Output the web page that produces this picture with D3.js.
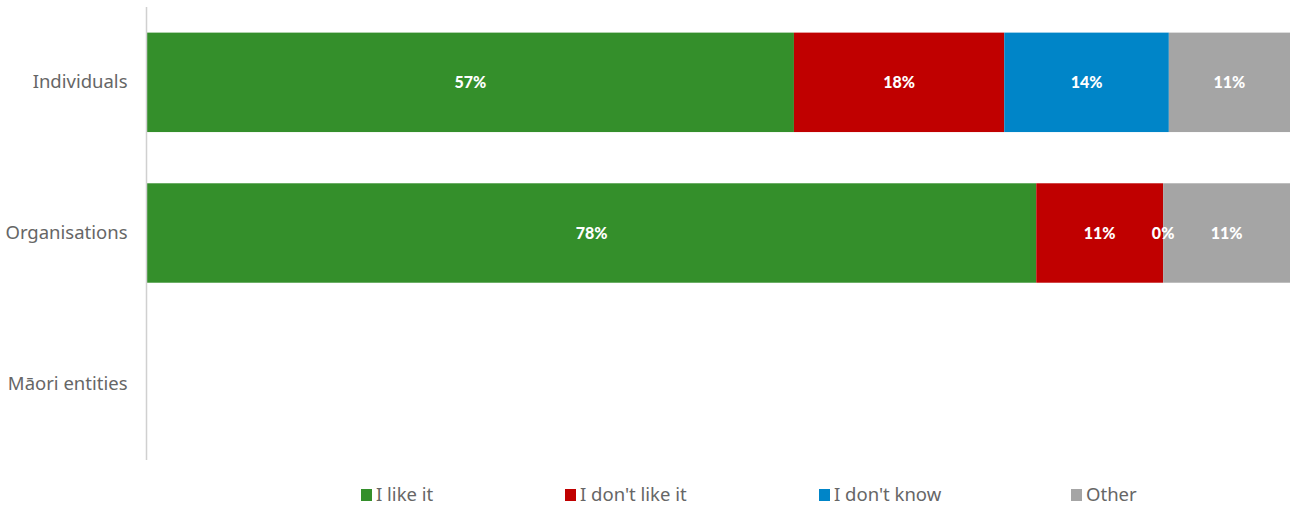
<!DOCTYPE html>
<html>
<head>
<meta charset="utf-8">
<script src="https://cdnjs.cloudflare.com/ajax/libs/d3/7.8.5/d3.min.js"></script>
<style>
body { margin: 0; background: #fff; }
svg text { font-family: "Noto Sans", sans-serif; }
</style>
</head>
<body>
<svg></svg>
<script>
const width = 1290;
const height = 509;

// data
const categories = ["Individuals", "Organisations", "Māori entities"];
const seriesNames = ["I like it", "I don't like it", "I don't know", "Other"];
const seriesColors = ["#348f2b", "#c00000", "#0085c8", "#a5a5a5"];
const likeIt = [56.6, 77.8, null];
const dontLike = [18.4, 11.1, null];
const dontKnow = [14.4, 0, null];
const other = [10.6, 11.1, null];

let rows = categories.map((c, i) => ({
    category: c,
    "I like it": likeIt[i],
    "I don't like it": dontLike[i],
    "I don't know": dontKnow[i],
    "Other": other[i]
}));

let svg = d3.select("svg")
    .attr("width", width)
    .attr("height", height);

//scales
let xScale = d3.scaleLinear()
    .domain([0, 100])
    .range([147, 1290]);
let yScale = d3.scaleBand()
    .domain(categories)
    .range([7, 459])
    .paddingInner(0.34)
    .paddingOuter(0.17);
let colorScale = d3.scaleOrdinal()
    .domain(seriesNames)
    .range(seriesColors);

let stacked = d3.stack().keys(seriesNames)
    .value((d, k) => d[k] == null ? 0 : d[k])(rows);

// flatten segments so labels can sit above every bar
let segments = [];
stacked.forEach(layer => {
    layer.forEach(p => {
        if (p.data[layer.key] != null) {
            segments.push({key: layer.key, x0: p[0], x1: p[1], category: p.data.category, value: p.data[layer.key]});
        }
    });
});

svg.append("g").selectAll("rect")
    .data(segments)
    .enter()
    .append("rect")
        .attr("x", d => xScale(d.x0))
        .attr("y", d => yScale(d.category))
        .attr("width", d => xScale(d.x1) - xScale(d.x0))
        .attr("height", yScale.bandwidth())
        .attr("fill", d => colorScale(d.key));

//value labels
svg.append("g").selectAll("text")
    .data(segments)
    .enter()
    .append("text")
        .attr("x", d => (xScale(d.x0) + xScale(d.x1)) / 2)
        .attr("y", d => yScale(d.category) + yScale.bandwidth() / 2)
        .attr("dy", "0.35em")
        .attr("text-anchor", "middle")
        .attr("fill", "#fff")
        .style("font-family", "Lato, sans-serif")
        .style("font-weight", "900")
        .style("font-size", "16px")
        .text(d => Math.round(d.value) + "%");

//y axis
let yAxis = d3.axisLeft(yScale).tickSize(0).tickPadding(19);
let yAxisG = svg.append("g")
    .attr("transform", "translate(146.5, 0)")
    .call(yAxis);
yAxisG.select(".domain").remove();
yAxisG.append("line")
    .attr("y1", 7).attr("y2", 460)
    .attr("stroke", "#d0d0d0").attr("stroke-width", 1.5);
yAxisG.selectAll(".tick text")
    .attr("fill", "#666")
    .style("font-size", "18.5px")
    .style("font-family", "'Noto Sans', sans-serif");

//legend
let legendX = [361, 565, 819, 1071];
let legend = svg.append("g").selectAll("g")
    .data(seriesNames)
    .enter()
    .append("g")
        .attr("transform", (d, i) => `translate(${legendX[i]}, 495)`);
legend.append("rect")
    .attr("x", 0).attr("y", -6)
    .attr("width", 11).attr("height", 12)
    .attr("fill", d => colorScale(d));
legend.append("text")
    .attr("x", 15)
    .attr("dy", "0.35em")
    .attr("fill", "#666")
    .style("font-size", "18.5px")
    .text(d => d);
</script>
</body>
</html>
